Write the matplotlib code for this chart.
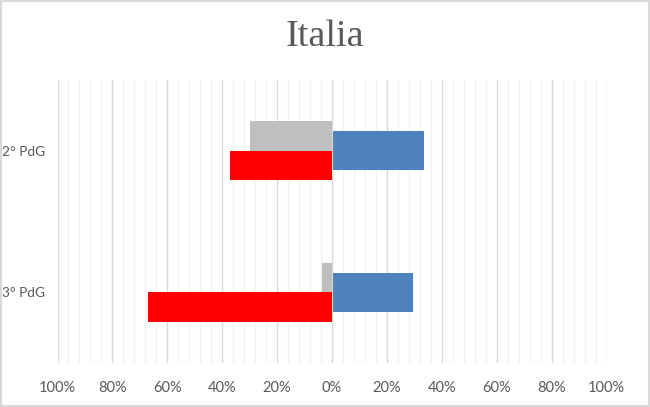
import matplotlib
matplotlib.use("Agg")
import matplotlib.pyplot as plt
import numpy as np
from matplotlib.ticker import MultipleLocator, FuncFormatter

categories = ["2° PdG", "3° PdG"]
gray_vals = [-30, -3.6]
red_vals = [-37, -67]
blue_vals = [33, 29]
x_ticks = [-100, -80, -60, -40, -20, 0, 20, 40, 60, 80, 100]

fig = plt.figure(figsize=(6.5, 4.07), dpi=100)
fig.patch.set_facecolor("white")
ax = fig.add_axes([57.5/650, 1-363/407, (606.5-57.5)/650, (363-80)/407])

y = np.arange(len(categories))
w_small = 0.21
w_blue = 0.275
ax.barh(y - w_small/2, gray_vals, height=w_small, color="#BFBFBF", zorder=3)
ax.barh(y + w_small/2, red_vals, height=w_small, color="#FF0000", zorder=3)
ax.barh(y, blue_vals, height=w_blue, color="#4F81BD", zorder=4, left=0.4)

ax.set_xlim(-100, 100)
ax.set_ylim(1.5, -0.5)
ax.set_xticks(x_ticks)
ax.xaxis.set_minor_locator(MultipleLocator(4))
ax.xaxis.set_major_formatter(FuncFormatter(lambda v, p: f"{abs(int(round(v)))}%"))
ax.grid(which="major", axis="x", color="#D9D9D9", linewidth=1.0, zorder=0)
ax.grid(which="minor", axis="x", color="#F0F0F0", linewidth=0.9, zorder=0)
ax.set_yticks(y)
ax.set_yticklabels(categories)
for s in ax.spines.values():
    s.set_visible(False)
ax.tick_params(axis="both", which="both", length=0)
ax.tick_params(axis="x", pad=13, labelsize=10.5, labelcolor="#595959")
ax.tick_params(axis="y", pad=9, labelsize=9.8, labelcolor="#595959")
for lab in ax.get_xticklabels() + ax.get_yticklabels():
    lab.set_fontfamily("Lato")

fig.text(0.5, 1-37/407, "Italia", ha="center", va="center", fontsize=27.5,
         color="#595959", family="Liberation Serif")

border = plt.Rectangle((0.001, 0.002), 0.997, 0.995, transform=fig.transFigure,
                       fill=False, edgecolor="#D9D9D9", linewidth=1.5)
fig.patches.append(border)

fig.savefig("out.png", dpi=100)
